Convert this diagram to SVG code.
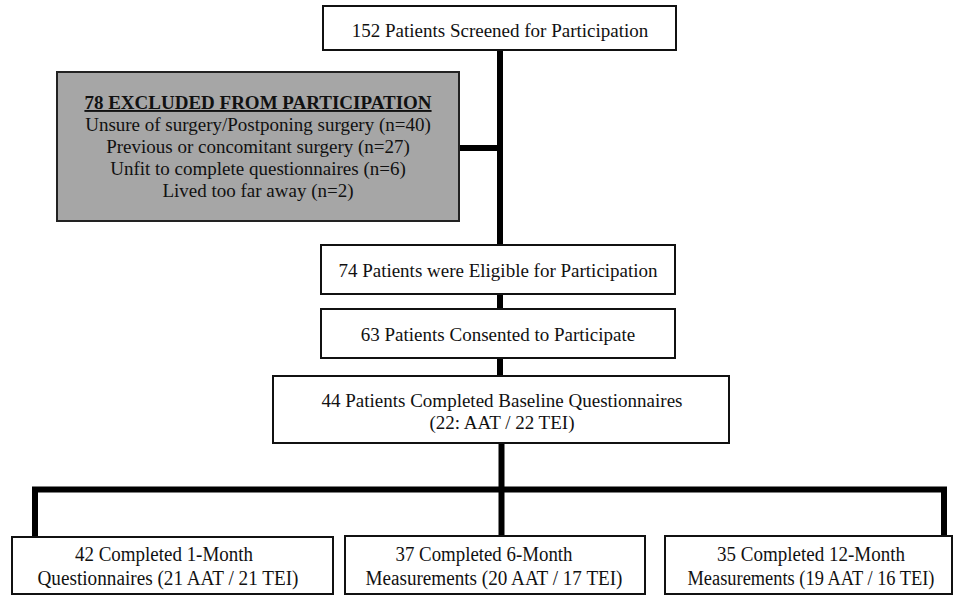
<svg xmlns="http://www.w3.org/2000/svg" width="954" height="596" viewBox="0 0 954 596">
<style>
.box{fill:#fff;stroke:#111;stroke-width:2}
.ex{fill:#a6a6a6;stroke:#222;stroke-width:2}
.t{font-family:"Liberation Serif","Times New Roman",serif;font-size:19px;fill:#111;text-anchor:middle}
.s{font-size:20px}
.b{font-weight:bold;text-decoration:underline}
.c{stroke:#000;fill:none;stroke-linecap:butt}
</style>
<rect width="954" height="596" fill="#fff"/>
<g id="connectors">
<line class="c" x1="500" y1="50" x2="500" y2="245" stroke-width="6"/>
<line class="c" x1="459" y1="148" x2="500" y2="148" stroke-width="6"/>
<line class="c" x1="500" y1="294" x2="500" y2="309" stroke-width="6"/>
<line class="c" x1="500" y1="358" x2="500" y2="376" stroke-width="6"/>
<line class="c" x1="501.5" y1="443" x2="501.5" y2="536" stroke-width="6"/>
<polyline class="c" points="35,537 35,489.5 944,489.5 944,536" stroke-width="6"/>
</g>
<g id="screened">
<rect class="box" x="323" y="6" width="353" height="44"/>
<text class="t" x="500" y="37">152 Patients Screened for Participation</text>
</g>
<g id="excluded">
<rect class="ex" x="57" y="72" width="402" height="149"/>
<text class="t b" x="258" y="109">78 EXCLUDED FROM PARTICIPATION</text>
<text class="t" x="258" y="131">Unsure of surgery/Postponing surgery (n=40)</text>
<text class="t" x="258" y="153">Previous or concomitant surgery (n=27)</text>
<text class="t" x="258" y="175">Unfit to complete questionnaires (n=6)</text>
<text class="t" x="258" y="197">Lived too far away (n=2)</text>
</g>
<g id="eligible">
<rect class="box" x="321" y="245" width="354" height="49"/>
<text class="t" x="498" y="277">74 Patients were Eligible for Participation</text>
</g>
<g id="consented">
<rect class="box" x="321" y="309" width="354" height="49"/>
<text class="t" x="498" y="341">63 Patients Consented to Participate</text>
</g>
<g id="baseline">
<rect class="box" x="273" y="376" width="456" height="67"/>
<text class="t" x="502" y="407">44 Patients Completed Baseline Questionnaires</text>
<text class="t" x="502" y="429">(22: AAT / 22 TEI)</text>
</g>
<g id="month1">
<rect class="box" x="12" y="537" width="321" height="57"/>
<text class="t s" x="164" y="561" textLength="178" lengthAdjust="spacingAndGlyphs">42 Completed 1-Month</text>
<text class="t s" x="168" y="585" textLength="261" lengthAdjust="spacingAndGlyphs">Questionnaires (21 AAT / 21 TEI)</text>
</g>
<g id="month6">
<rect class="box" x="345" y="536" width="300" height="58"/>
<text class="t s" x="484" y="561" textLength="177" lengthAdjust="spacingAndGlyphs">37 Completed 6-Month</text>
<text class="t s" x="494" y="585" textLength="257" lengthAdjust="spacingAndGlyphs">Measurements (20 AAT / 17 TEI)</text>
</g>
<g id="month12">
<rect class="box" x="665" y="536" width="287" height="58"/>
<text class="t s" x="811" y="561" textLength="188" lengthAdjust="spacingAndGlyphs">35 Completed 12-Month</text>
<text class="t s" x="811" y="585" textLength="247" lengthAdjust="spacingAndGlyphs">Measurements (19 AAT / 16 TEI)</text>
</g>
</svg>
